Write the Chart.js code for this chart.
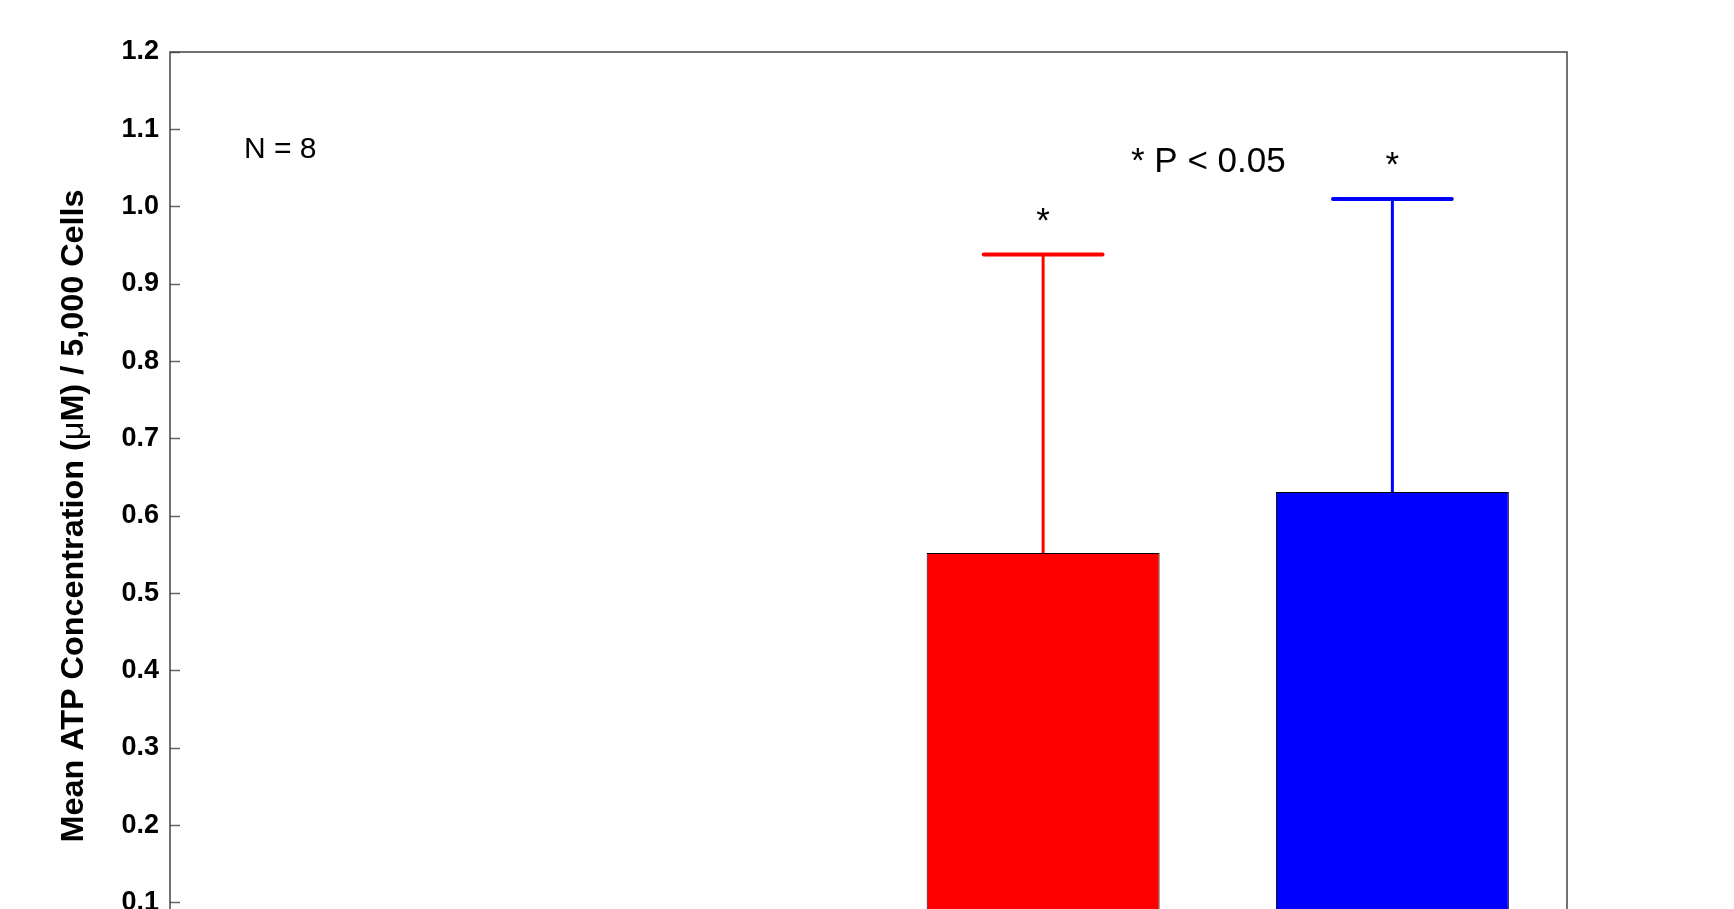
<!DOCTYPE html>
<html>
<head>
<meta charset="utf-8">
<script src="https://cdn.jsdelivr.net/npm/chart.js@4.4.1/dist/chart.umd.min.js"></script>
<style>
  html, body { margin: 0; padding: 0; background: #ffffff; overflow: hidden; }
  #wrap { width: 1734px; height: 1100px; }
</style>
</head>
<body>
<div id="wrap"><canvas id="atpChart" width="1734" height="1100"></canvas></div>
<script>
// ---- data ----
const categories = ['Group 1', 'Group 2', 'Group 3', 'Group 4'];
const meanATP = [null, null, 0.552, 0.631];
const errATP = [null, null, 0.386, 0.379];
const barColors = ['#ff0000', '#0000ff', '#ff0000', '#0000ff'];
const sigMarks = ['', '', '*', '*'];
const yTickValues = [0.0, 0.1, 0.2, 0.3, 0.4, 0.5, 0.6, 0.7, 0.8, 0.9, 1.0, 1.1, 1.2];
const yTitleParts = ['Mean ATP Concentration (', '\u03BC', 'M) / 5,000 Cells'];
const sampleNote = 'N = 8';
const pNote = '* P < 0.05';

const FONT = '"Liberation Sans", Arial, Helvetica, sans-serif';

// outer box around the plotting area
const framePlugin = {
  id: 'frame',
  afterDatasetsDraw(chart) {
    const { ctx, chartArea: a } = chart;
    ctx.save();
    ctx.strokeStyle = '#444';
    ctx.lineWidth = 1.5;
    ctx.strokeRect(a.left, a.top, a.right - a.left, a.bottom - a.top);
    ctx.restore();
  }
};

// mean + error whiskers with caps, coloured like their bar
const errorBarPlugin = {
  id: 'errorBars',
  afterDatasetsDraw(chart) {
    const { ctx } = chart;
    const yScale = chart.scales.y;
    const meta = chart.getDatasetMeta(0);
    ctx.save();
    meta.data.forEach((bar, i) => {
      if (meanATP[i] == null || errATP[i] == null) return;
      const x = bar.x;
      const yBar = yScale.getPixelForValue(meanATP[i]);
      const yTop = yScale.getPixelForValue(meanATP[i] + errATP[i]);
      const half = bar.width * 0.255;
      ctx.strokeStyle = barColors[i];
      ctx.lineCap = 'butt';
      ctx.lineWidth = 3;
      ctx.beginPath();
      ctx.moveTo(x, yBar);
      ctx.lineTo(x, yTop);
      ctx.stroke();
      ctx.lineWidth = 4;
      ctx.lineCap = 'round';
      ctx.beginPath();
      ctx.moveTo(x - half, yTop);
      ctx.lineTo(x + half, yTop);
      ctx.stroke();
    });
    ctx.restore();
  }
};

// significance marks and notes inside the plot
const notesPlugin = {
  id: 'notes',
  afterDraw(chart) {
    const { ctx, chartArea: a } = chart;
    const yScale = chart.scales.y;
    const meta = chart.getDatasetMeta(0);
    ctx.save();
    ctx.fillStyle = '#000';
    ctx.textBaseline = 'alphabetic';

    ctx.font = '35px ' + FONT;
    ctx.textAlign = 'center';
    meta.data.forEach((bar, i) => {
      if (!sigMarks[i]) return;
      const yTop = yScale.getPixelForValue(meanATP[i] + errATP[i]);
      ctx.fillText(sigMarks[i], bar.x, yTop - 23);
    });

    ctx.textAlign = 'left';
    ctx.fillText(pNote, a.left + 961, a.top + 120);

    ctx.font = '30px ' + FONT;
    ctx.fillText(sampleNote, a.left + 74, a.top + 106);
    ctx.restore();
  }
};

// vertical axis title, with the Greek mu set in regular weight
const yTitlePlugin = {
  id: 'yTitle',
  afterDraw(chart) {
    const { ctx, chartArea: a } = chart;
    const fonts = ['bold 31px ' + FONT, '31px ' + FONT, 'bold 31px ' + FONT];
    ctx.save();
    const widths = yTitleParts.map((t, i) => { ctx.font = fonts[i]; return ctx.measureText(t).width; });
    const total = widths.reduce((s, w) => s + w, 0);
    const span = 653;
    ctx.translate(a.left - 87, (a.top + a.bottom) / 2);
    ctx.rotate(-Math.PI / 2);
    ctx.scale(span / total, 1);
    ctx.fillStyle = '#000';
    ctx.textAlign = 'left';
    ctx.textBaseline = 'alphabetic';
    let x = -total / 2;
    yTitleParts.forEach((t, i) => {
      ctx.font = fonts[i];
      ctx.fillText(t, x, 0);
      x += widths[i];
    });
    ctx.restore();
  }
};

new Chart(document.getElementById('atpChart'), {
  type: 'bar',
  data: {
    labels: categories,
    datasets: [{
      data: meanATP,
      backgroundColor: barColors,
      borderColor: '#000000',
      borderWidth: 1,
      categoryPercentage: 1.0,
      barPercentage: 0.667
    }]
  },
  options: {
    responsive: false,
    animation: false,
    events: [],
    layout: { padding: { top: 52, right: 167, bottom: 120, left: 0 } },
    plugins: {
      legend: { display: false },
      tooltip: { enabled: false },
      title: { display: false }
    },
    scales: {
      x: {
        type: 'category',
        display: false,
        offset: true
      },
      y: {
        min: 0,
        max: 1.2,
        afterBuildTicks(scale) {
          scale.ticks = yTickValues.map(v => ({ value: v }));
        },
        afterFit(scale) { scale.width = 170; },
        border: { display: false },
        grid: {
          display: true,
          drawOnChartArea: false,
          drawTicks: true,
          tickLength: -10,
          tickWidth: 1.5,
          tickColor: '#666'
        },
        ticks: {
          padding: 21,
          color: '#000',
          font: { family: FONT, size: 27, weight: 'bold' },
          callback: v => Number(v).toFixed(1)
        },
        title: { display: false }
      }
    }
  },
  plugins: [framePlugin, errorBarPlugin, notesPlugin, yTitlePlugin]
});
</script>
</body>
</html>
